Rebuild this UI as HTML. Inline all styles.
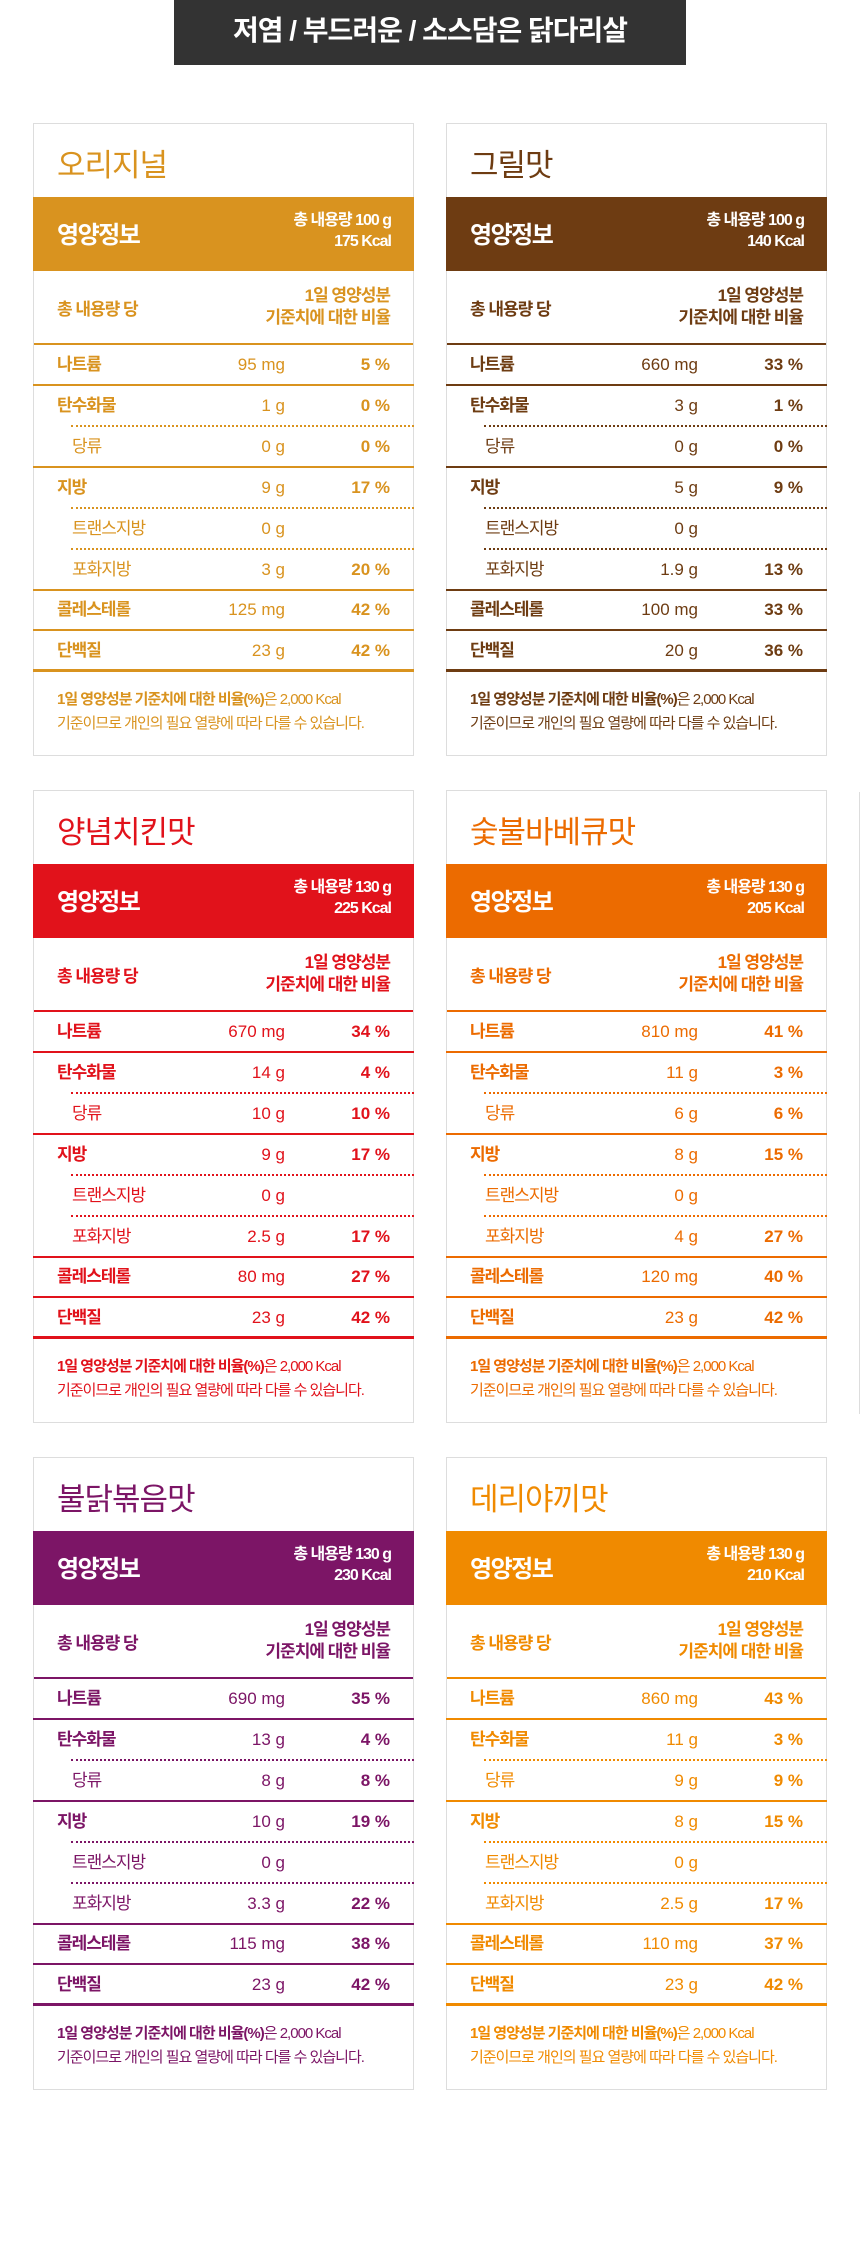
<!DOCTYPE html>
<html><head><meta charset="utf-8">
<style>
*{margin:0;padding:0;box-sizing:border-box}
body{width:860px;height:2257px;background:#fff;position:relative;overflow:hidden;font-family:"Liberation Sans","Noto Sans CJK KR",sans-serif}
.banner{position:absolute;left:174px;top:0;width:512px;height:65px;background:#333;color:#fff;font-size:28px;font-weight:bold;text-align:center;line-height:62px;letter-spacing:-1px}
.card{position:absolute;width:381px;height:633px;border:1px solid #ddd;background:#fff}
.title{position:absolute;left:23px;top:16px;font-size:31px;letter-spacing:-1px}
.hdr{position:absolute;left:-1px;right:-1px;top:73px;height:74px;color:#fff}
.hdr .l{position:absolute;left:24px;top:18px;font-size:24px;font-weight:bold;letter-spacing:-1.5px}
.hdr .r{position:absolute;right:23px;top:13px;font-size:16px;font-weight:bold;text-align:right;line-height:21px;letter-spacing:-1px}
.colh{position:absolute;left:0;right:0;top:147px;height:74px}
.colh .l{position:absolute;left:23px;top:24px;font-size:17px;font-weight:bold;letter-spacing:-1px}
.colh .r{position:absolute;right:23px;top:14px;font-size:17px;font-weight:bold;text-align:right;line-height:22px;letter-spacing:-1px}
.row{position:absolute;left:-1px;right:-1px;height:41px;font-size:17px;line-height:39px}
.row .n{position:absolute;left:24px;top:0;letter-spacing:-1px}
.row .a{position:absolute;right:129px;top:0;text-align:right}
.row .p{position:absolute;right:24px;top:0;font-weight:bold;text-align:right}
.foot{position:absolute;left:23px;top:564px;font-size:15px;line-height:24px;letter-spacing:-1px}
</style></head><body>
<div class="banner">저염 / 부드러운 / 소스담은 닭다리살</div>
<div style="position:absolute;left:859px;top:792px;width:1px;height:622px;background:#ddd"></div>
<script>
const flavors=["오리지널","그릴맛","양념치킨맛","숯불바베큐맛","불닭볶음맛","데리야끼맛"];
const colors=["#d9931f","#6e3c12","#e1121b","#ec6b00","#7c1566","#f08a00"];
const servings=["100","100","130","130","130","130"];
const kcals=["175","140","225","205","230","210"];
const nutrients=["나트륨","탄수화물","당류","지방","트랜스지방","포화지방","콜레스테롤","단백질"];
const subRows=[false,false,true,false,true,true,false,false];
const amounts=[
["95 mg","1 g","0 g","9 g","0 g","3 g","125 mg","23 g"],
["660 mg","3 g","0 g","5 g","0 g","1.9 g","100 mg","20 g"],
["670 mg","14 g","10 g","9 g","0 g","2.5 g","80 mg","23 g"],
["810 mg","11 g","6 g","8 g","0 g","4 g","120 mg","23 g"],
["690 mg","13 g","8 g","10 g","0 g","3.3 g","115 mg","23 g"],
["860 mg","11 g","9 g","8 g","0 g","2.5 g","110 mg","23 g"]];
const percents=[
["5 %","0 %","0 %","17 %","","20 %","42 %","42 %"],
["33 %","1 %","0 %","9 %","","13 %","33 %","36 %"],
["34 %","4 %","10 %","17 %","","17 %","27 %","42 %"],
["41 %","3 %","6 %","15 %","","27 %","40 %","42 %"],
["35 %","4 %","8 %","19 %","","22 %","38 %","42 %"],
["43 %","3 %","9 %","15 %","","17 %","37 %","42 %"]];
const lefts=[33,446];const tops=[123,790,1457];
flavors.forEach((f,i)=>{
  const c=colors[i];
  const card=document.createElement('div');
  card.className='card';
  
  
  card.style.left=lefts[i%2]+'px';card.style.top=tops[Math.floor(i/2)]+'px';
  let h='<div class="title" style="color:'+c+'">'+f+'</div>';
  h+='<div class="hdr" style="background:'+c+'"><div class="l">영양정보</div><div class="r">총 내용량 '+servings[i]+' g<br>'+kcals[i]+' Kcal</div></div>';
  h+='<div class="colh" style="color:'+c+';border-bottom:2px solid '+c+'"><div class="l">총 내용량 당</div><div class="r">1일 영양성분<br>기준치에 대한 비율</div></div>';
  nutrients.forEach((n,j)=>{
    const top=221+j*40.9;
    const sub=subRows[j];
    const nextSub=j<7&&subRows[j+1];
    let border;
    if(j===7) border='border-bottom:3px solid '+c;
    else if(nextSub) border='';
    else border='border-bottom:2px solid '+c;
    h+='<div class="row" style="top:'+top+'px;color:'+c+';'+border+'">';
    if(nextSub) h+='<div style="position:absolute;left:38px;right:0;bottom:0;border-bottom:2px dotted '+c+'"></div>';
    h+='<div class="n" style="'+(sub?'left:39px;font-weight:normal':'font-weight:bold')+'">'+n+'</div>';
    h+='<div class="a">'+amounts[i][j]+'</div><div class="p">'+percents[i][j]+'</div></div>';
  });
  h+='<div class="foot" style="color:'+c+'"><b>1일 영양성분 기준치에 대한 비율(%)</b>은 2,000 Kcal<br>기준이므로 개인의 필요 열량에 따라 다를 수 있습니다.</div>';
  card.innerHTML=h;
  document.body.appendChild(card);
});
</script>
</body></html>
